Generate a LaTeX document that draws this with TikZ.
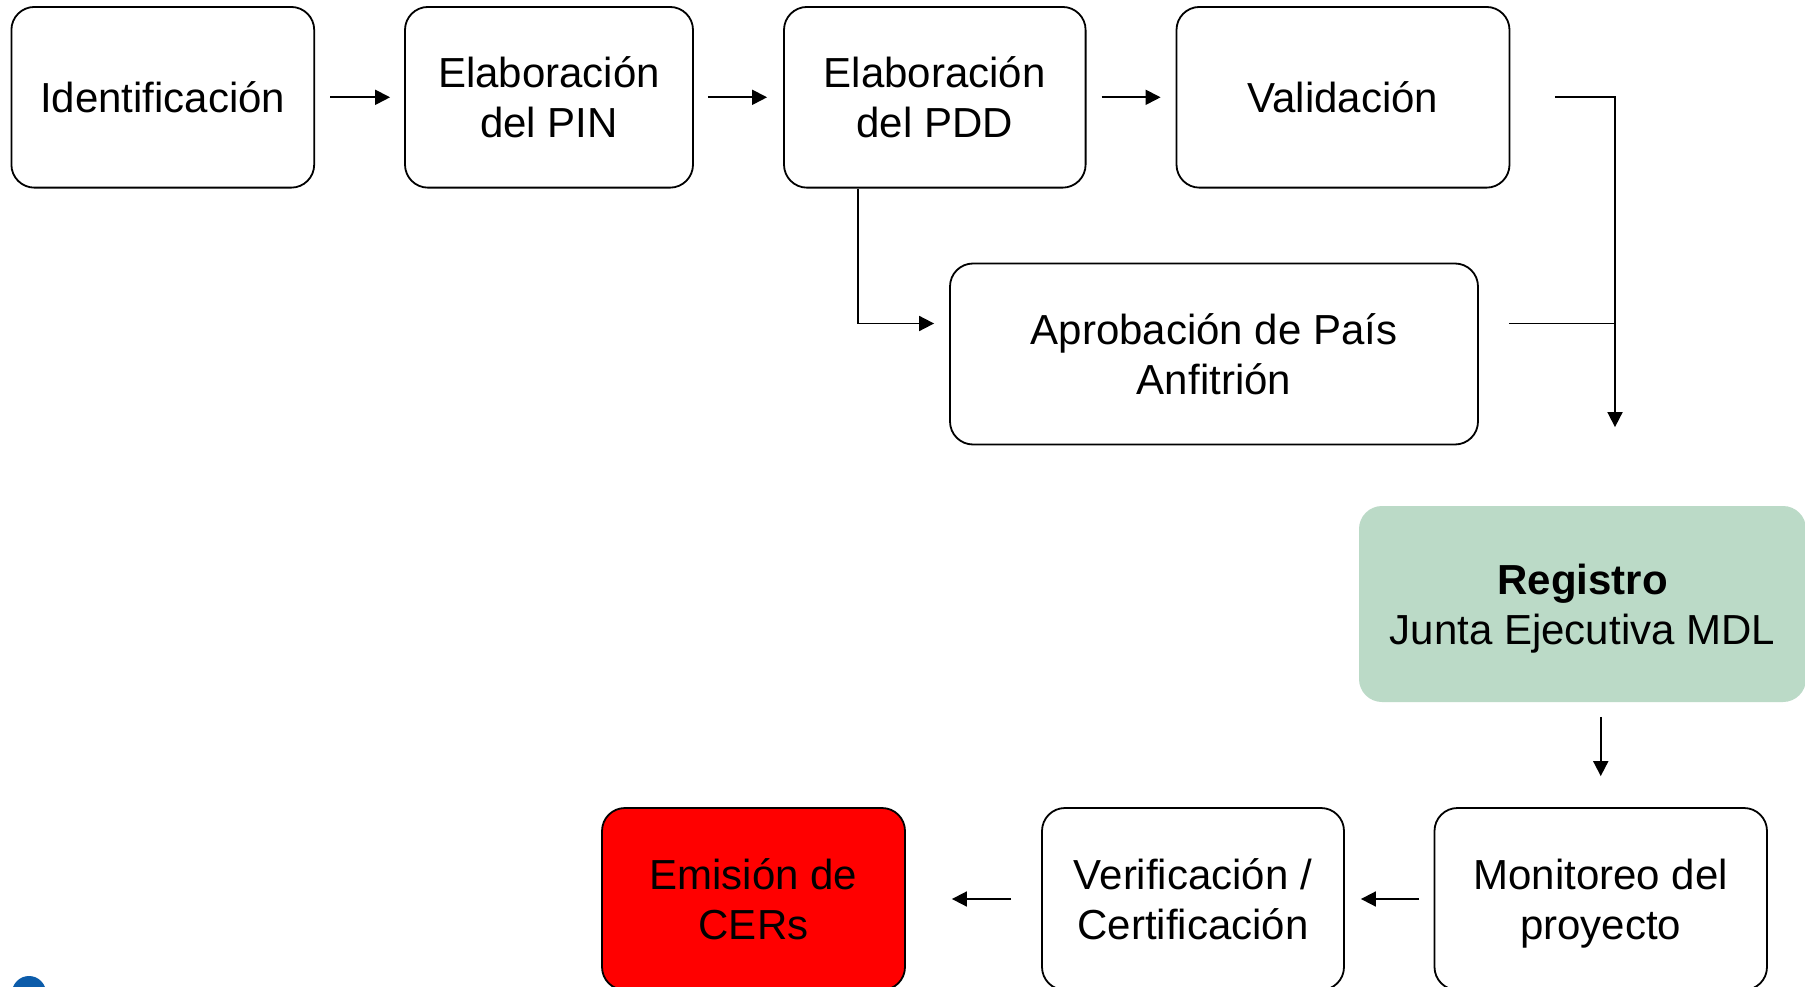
\documentclass[tikz,border=0pt]{standalone}
\usepackage{fontspec}
\setmainfont{Liberation Sans}
\usetikzlibrary{arrows.meta,calc}
\definecolor{regfill}{RGB}{187,218,199}
\definecolor{emired}{RGB}{255,0,0}
\definecolor{logoblue}{RGB}{12,92,170}
\tikzset{
  stepbox/.style={draw=black, line width=1.8pt, rounded corners=23pt, fill=white,
    inner sep=0pt, align=center, font=\fontsize{42}{50}\selectfont},
  regbox/.style={stepbox, draw=none, fill=regfill},
  emibox/.style={stepbox, fill=emired},
  conn/.style={line width=1.8pt, draw=black},
  arr/.style={conn, -{Triangle[length=15pt,width=15pt]}},
}
\begin{document}
\begin{tikzpicture}[x=1pt,y=1pt]
\useasboundingbox (0,0) rectangle (1805,-987);
\fill[white] (0,0) rectangle (1805,-987);
\begin{scope}
\clip (0,0) rectangle (1805,-987);
% top row
\node[stepbox, minimum width=302.8pt, minimum height=180.7pt] (ident) at (162.8,-97.3) {Identificación};
\node[stepbox, minimum width=288pt, minimum height=180.7pt] (pin) at (549,-97.3) {Elaboración\\del PIN};
\node[stepbox, minimum width=301.6pt, minimum height=180.7pt] (pdd) at (934.8,-97.3) {Elaboración\\del PDD};
\node[stepbox, minimum width=333pt, minimum height=180.7pt] (val) at (1343,-97.3) {Validación};
% second row
\node[stepbox, minimum width=528pt, minimum height=181pt] (apr) at (1214,-354) {Aprobación de País\\Anfitrión};
% registro
\node[regbox, minimum width=447pt, minimum height=196pt] (reg) at (1582.5,-604) {\textbf{Registro}\\\smash{Junta Ejecutiva MDL}};
% bottom row
\node[stepbox, minimum width=332.5pt, minimum height=182pt] (mon) at (1600.75,-899) {Monitoreo del\\\smash{proyecto}};
\node[stepbox, minimum width=302pt, minimum height=182pt] (ver) at (1193,-899) {Verificación /\\Certificación};
\node[emibox, minimum width=303pt, minimum height=182pt] (emi) at (753.5,-899) {Emisión de\\CERs};
% logo fragment
\fill[logoblue] (29,-993) circle (17);
\end{scope}
% connectors
\coordinate (jx) at ($(reg.north)+(32.5,0)$);
\draw[arr, shorten <=15pt, shorten >=14pt] (ident.east) -- (pin.west);
\draw[arr, shorten <=14pt, shorten >=16pt] (pin.east) -- (pdd.west);
\draw[arr, shorten <=15pt, shorten >=15pt] (pdd.east) -- (val.west);
\draw[arr, shorten <=44.5pt, shorten >=78pt] (val.east) -| (jx);
\draw[conn, shorten <=30pt] ([yshift=30.5pt]apr.east) -- ([yshift=30.5pt]apr.east -| jx);
\draw[arr, shorten >=15pt] ([xshift=74.5pt]pdd.south west) |- ([yshift=30.5pt]apr.west);
\draw[arr, shorten <=14pt, shorten >=31pt] (reg.south -| mon.north) -- (mon.north);
\draw[arr, shorten <=14.5pt, shorten >=16pt] (mon.west) -- (ver.east);
\draw[arr, shorten <=30pt, shorten >=46pt] (ver.west) -- (emi.east);
\end{tikzpicture}
\end{document}
